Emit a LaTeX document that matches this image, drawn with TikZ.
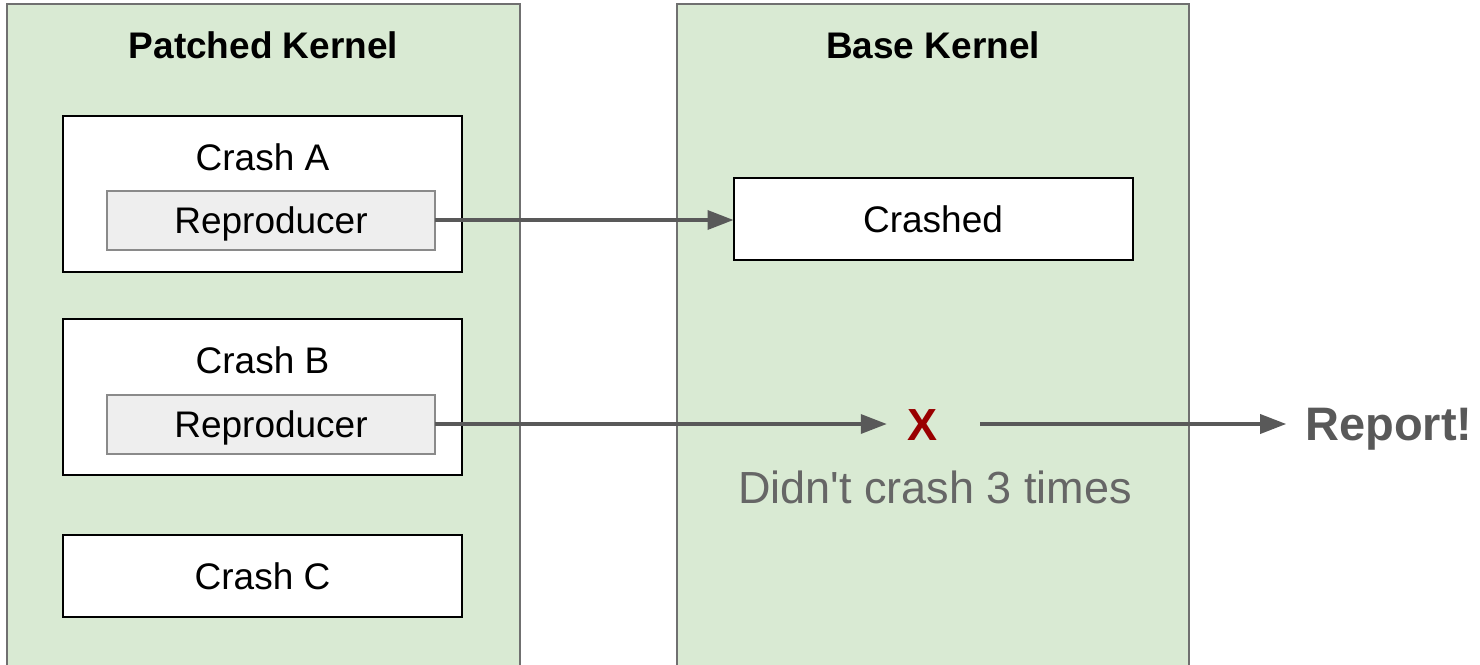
\documentclass[tikz,border=0pt]{standalone}
\usepackage{fontspec}
\setmainfont{Liberation Sans}
\usepackage{tikz}
\usetikzlibrary{positioning}
\usetikzlibrary{arrows.meta}
\definecolor{kernelgreen}{HTML}{D9EAD3}
\definecolor{panelgray}{HTML}{707070}
\definecolor{reprofill}{HTML}{EEEEEE}
\definecolor{reprogray}{HTML}{8A8A8A}
\definecolor{arrowgray}{HTML}{595959}
\definecolor{notegray}{HTML}{666666}
\definecolor{failred}{HTML}{990000}
\tikzset{
    panel/.style={
        draw=panelgray,
        fill=kernelgreen,
        line width=1.5pt,
        anchor=north west,
        minimum height=680pt,
        outer sep=0pt},
    paneltitle/.style={
        font=\bfseries\fontsize{37}{44}\selectfont,
        inner sep=0pt,
        text height=26.5pt,
        text depth=0pt},
    crash/.style={
        draw=black,
        fill=white,
        line width=2pt,
        minimum width=399pt,
        outer sep=0pt},
    crashname/.style={
        font=\fontsize{37}{44}\selectfont,
        inner sep=0pt,
        text height=26.5pt,
        text depth=0pt},
    repro/.style={
        crashname,
        draw=reprogray,
        fill=reprofill,
        line width=2pt,
        minimum width=328pt,
        minimum height=59pt,
        outer sep=0pt},
    every edge/.style={
        draw,
        -{Triangle[length=26pt,width=19pt]},
        arrowgray,
        line width=3.5pt}}

\begin{document}
\begin{tikzpicture}[x=1pt, y=-1pt]
    \useasboundingbox (0,0) rectangle (1480,664);

    % the two kernels
    \node[panel, minimum width=513pt] (patched) at (7,4) {};
    \node[panel, minimum width=512pt] (base) at (677,4) {};
    \node[paneltitle] at ([yshift=-41pt]patched.north) {Patched Kernel};
    \node[paneltitle] at ([yshift=-41pt]base.north) {Base Kernel};

    % crashes found on the patched kernel
    \node[crash, minimum height=156pt] (crashA) at (262.5,194) {};
    \node[crashname] at ([yshift=-41pt]crashA.north) {Crash A};
    \node[repro] (reproA) at (271,220) {Reproducer};
    \node[crash, minimum height=156pt] (crashB) at (262.5,397) {};
    \node[crashname] at ([yshift=-41pt]crashB.north) {Crash B};
    \node[repro] (reproB) at (271,424) {Reproducer};
    \node[crash, minimum height=82pt, crashname] (crashC) at (262.5,576) {Crash C};

    % replaying on the base kernel
    \node[crash, minimum height=82pt, crashname] (crashed) at (933,219) {Crashed};
    \node[font=\bfseries\fontsize{45}{50}\selectfont, text=failred,
          inner sep=0pt, text height=32.2pt, text depth=0pt,
          minimum width=70pt] (fail) at (922,424) {X};
    \node[font=\fontsize{45}{50}\selectfont, text=notegray,
          inner sep=0pt, text height=32.2pt, text depth=0pt] (note) at (935,487) {Didn\textquotesingle t crash 3 times};
    \node[font=\bfseries\fontsize{47}{52}\selectfont, text=arrowgray,
          inner sep=0pt, inner xsep=19pt, text height=33.7pt, text depth=0pt,
          right=329pt of fail] (report) {Report!};

    \draw (reproA.east) edge (reproA.east -| crashed.west);
    \draw (reproB.east) edge (fail.west);
    \draw (fail.east) edge[shorten <=23pt] (report.west);
\end{tikzpicture}
\end{document}
